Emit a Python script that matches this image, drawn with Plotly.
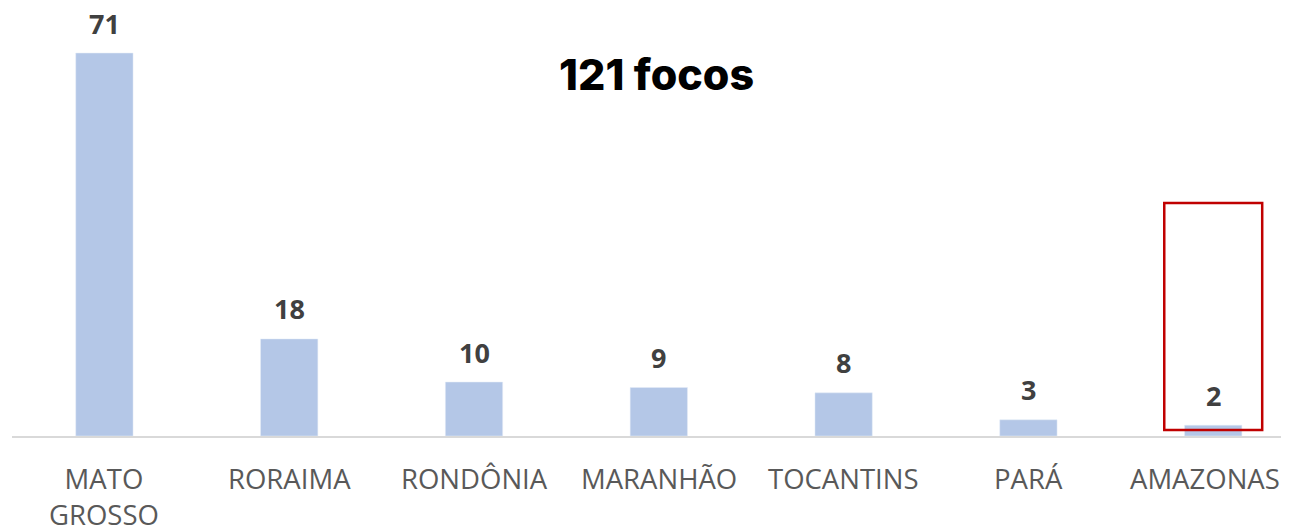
import plotly.graph_objects as go

# ---------------------------------------------------------------------------
# DATA
# ---------------------------------------------------------------------------
states = ["MATO<br>GROSSO", "RORAIMA", "RONDÔNIA", "MARANHÃO", "TOCANTINS", "PARÁ", "AMAZONAS"]
focos = [71, 18, 10, 9, 8, 3, 2]
title_text = "121 focos"
highlight_state = "AMAZONAS"

BAR_COLOR = "#b4c7e7"
LABEL_COLOR = "#404040"
TICK_COLOR = "#595959"
HIGHLIGHT_COLOR = "#c00000"

# page body has an 8px default margin, so the figure is a bit smaller
FIG_W = 1281
FIG_H = 518

xs = list(range(len(states)))

fig = go.Figure()
fig.add_trace(
    go.Bar(
        x=xs,
        y=focos,
        marker_color=BAR_COLOR,
        width=0.31,
        hoverinfo="skip",
    )
)

# value labels above the bars
for x, v in zip(xs, focos):
    fig.add_annotation(
        x=x, y=v,
        xref="x", yref="y",
        text=str(v),
        showarrow=False,
        yanchor="middle",
        yshift=30,
        font=dict(family="Open Sans", size=27, color=LABEL_COLOR, weight="bold"),
    )

# category labels as annotations (plotly hides tick labels that overflow)
for x, name in zip(xs, states):
    fig.add_annotation(
        x=x, y=0,
        xref="x", yref="y",
        text=name,
        showarrow=False,
        yanchor="top",
        yshift=-22,
        xshift=-8 if x == xs[-1] else 0,
        font=dict(family="Open Sans", size=27.5, color=TICK_COLOR),
    )

# red box around the highlighted state
hi = states.index(highlight_state)
fig.add_shape(
    type="rect",
    xref="x", yref="y",
    x0=hi - 0.265, x1=hi + 0.265,
    y0=1.1, y1=43.2,
    line=dict(color=HIGHLIGHT_COLOR, width=2.5),
    fillcolor="rgba(0,0,0,0)",
)

fig.add_annotation(
    text=title_text,
    xref="paper", yref="paper",
    x=0.505, y=0.846,
    yanchor="middle",
    showarrow=False,
    font=dict(family="Inter", size=43, color="#000000", weight=800),
)

fig.update_layout(
    width=FIG_W,
    height=FIG_H,
    margin=dict(l=4, r=0, t=0, b=90, autoexpand=False),
    plot_bgcolor="white",
    paper_bgcolor="white",
    showlegend=False,
    xaxis=dict(
        range=[-0.5, 6.41],
        automargin=False,
        showline=True,
        linecolor="#d9d9d9",
        linewidth=2,
        showgrid=False,
        ticks="",
        showticklabels=False,
    ),
    yaxis=dict(
        range=[0, 79.35],
        visible=False,
        showgrid=False,
        automargin=False,
    ),
)

fig.write_html("out.html")
